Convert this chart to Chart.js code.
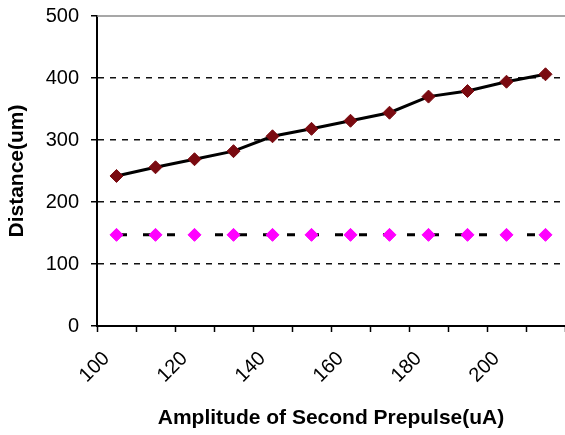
<!DOCTYPE html>
<html><head><meta charset="utf-8">
<script src="https://cdn.jsdelivr.net/npm/chart.js@4"></script>
<style>html,body{margin:0;padding:0;background:#fff;}canvas{display:block;}</style>
</head><body>
<canvas id="c" width="565" height="435"></canvas>
<script>
const categories = ['100','110','120','130','140','150','160','170','180','190','200','210'];
const shownLabels = ['100','120','140','160','180','200'];
const distance = [242,256,269,282,306,318,331,344,370,379,394,406];
const baseline = [147,147,147,147,147,147,147,147,147,147,147,147];
const yMin = 0, yMax = 500, yStep = 100;
const xTitle = 'Amplitude of Second Prepulse(uA)';
const yTitle = 'Distance(um)';

const frame = {
  id: 'frame',
  afterDatasetsDraw(chart) {
    const {ctx, chartArea: a} = chart;
    ctx.save();
    ctx.strokeStyle = '#8a8a8a';
    ctx.lineWidth = 1.5;
    ctx.beginPath();
    ctx.moveTo(a.left, a.top);
    ctx.lineTo(a.right, a.top);
    ctx.stroke();
    ctx.restore();
  }
};

new Chart(document.getElementById('c'), {
  type: 'line',
  data: {
    labels: categories,
    datasets: [
      {
        data: baseline,
        borderColor: '#000',
        borderWidth: 3,
        borderDash: [8, 16],
        borderDashOffset: 21.5,
        pointStyle: 'rectRot',
        pointRadius: 6.5,
        pointBackgroundColor: '#ff00ff',
        pointBorderColor: '#ff00ff',
        pointBorderWidth: 1,
        tension: 0,
        fill: false,
        clip: false
      },
      {
        data: distance,
        borderColor: '#000',
        borderWidth: 3,
        pointStyle: 'rectRot',
        pointRadius: 6.5,
        pointBackgroundColor: '#7a0a10',
        pointBorderColor: '#7a0a10',
        pointBorderWidth: 1,
        tension: 0,
        fill: false,
        clip: false
      }
    ]
  },
  options: {
    responsive: false,
    animation: false,
    layout: {autoPadding: false, padding: {left: 0, right: 0, top: 16, bottom: 0}},
    plugins: {legend: {display: false}, tooltip: {enabled: false}},
    scales: {
      x: {
        type: 'category',
        offset: true,
        grid: {
          offset: true,
          drawOnChartArea: false,
          drawTicks: true,
          tickLength: 6,
          tickColor: '#000',
          tickWidth: 1.5
        },
        border: {display: true, color: '#000', width: 2},
        ticks: {
          autoSkip: false,
          minRotation: 45,
          maxRotation: 45,
          color: '#000',
          font: {family: 'Liberation Sans, Arial, sans-serif', size: 20},
          padding: 15,
          labelOffset: -10,
          callback: function(v, i) {
            const l = categories[i];
            return shownLabels.includes(l) ? l : '';
          }
        },
        title: {
          display: true,
          text: xTitle,
          color: '#000',
          font: {family: 'Liberation Sans, Arial, sans-serif', size: 21, weight: 'bold'},
          padding: {top: 0, bottom: 4}
        },
        afterFit(s) { s.height = 109; s.paddingLeft = 0; s.paddingRight = 0; }
      },
      y: {
        min: yMin,
        max: yMax,
        ticks: {
          stepSize: yStep,
          color: '#000',
          padding: 12,
          font: {family: 'Liberation Sans, Arial, sans-serif', size: 20}
        },
        grid: {
          color: (ctx) => (ctx.tick && (ctx.tick.value === yMin || ctx.tick.value === yMax)) ? 'rgba(0,0,0,0)' : '#111',
          lineWidth: 1.5,
          tickColor: '#000',
          tickWidth: 1.5,
          tickLength: 6,
          tickBorderDash: []
        },
        border: {display: true, color: '#000', width: 2, dash: [6, 6]},
        title: {
          display: true,
          text: yTitle,
          color: '#000',
          font: {family: 'Liberation Sans, Arial, sans-serif', size: 21, weight: 'bold'},
          padding: {top: 5, bottom: 4}
        },
        afterFit(s) { s.width = 97; s.paddingTop = 0; s.paddingBottom = 0; }
      }
    }
  },
  plugins: [frame]
});
</script>
</body></html>
